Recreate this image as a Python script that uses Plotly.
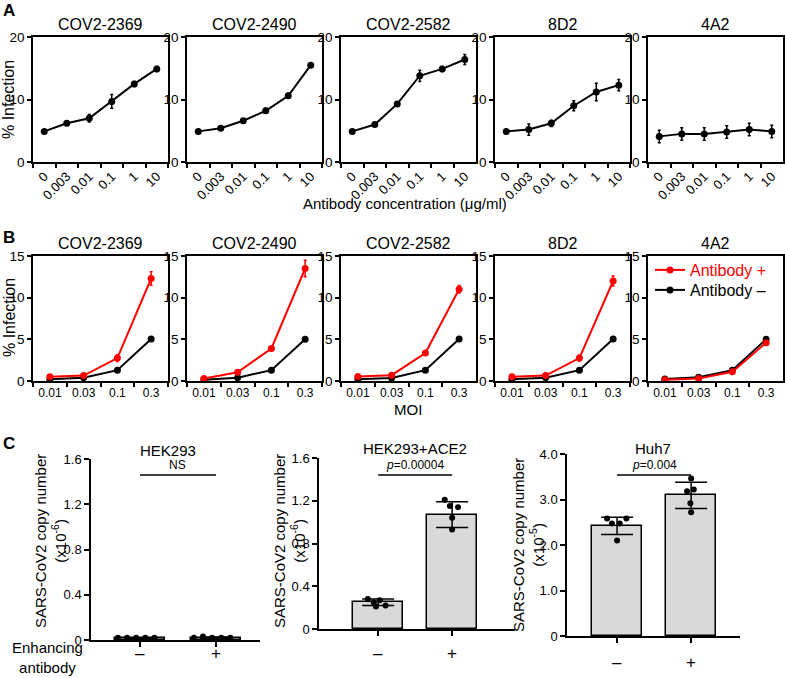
import plotly.graph_objects as go

W, H = 785, 678
FONT = "Liberation Sans, Arial, sans-serif"
RED = "#ff0000"
BLACK = "#000000"

# ---------------- data ----------------
A_conc = ["0", "0.003", "0.01", "0.1", "1", "10"]
A_antibodies = ["COV2-2369", "COV2-2490", "COV2-2582", "8D2", "4A2"]
A_mean_2369 = [4.9, 6.2, 7.0, 9.7, 12.5, 14.9]
A_err_2369 = [0.2, 0.3, 0.6, 1.1, 0.4, 0.4]
A_mean_2490 = [4.9, 5.4, 6.6, 8.2, 10.6, 15.5]
A_err_2490 = [0.3, 0.3, 0.3, 0.4, 0.4, 0.3]
A_mean_2582 = [4.9, 6.0, 9.3, 13.8, 14.9, 16.4]
A_err_2582 = [0.2, 0.2, 0.3, 0.9, 0.4, 0.8]
A_mean_8D2 = [4.9, 5.2, 6.2, 9.0, 11.2, 12.3]
A_err_8D2 = [0.3, 0.9, 0.5, 0.8, 1.4, 0.9]
A_mean_4A2 = [4.1, 4.5, 4.5, 4.8, 5.2, 4.9]
A_err_4A2 = [1.0, 1.0, 1.0, 1.0, 1.0, 1.0]

B_moi = ["0.01", "0.03", "0.1", "0.3"]
B_plus_2369 = [0.5, 0.65, 2.75, 12.3]
B_plus_err_2369 = [0.1, 0.1, 0.4, 0.8]
B_minus_2369 = [0.2, 0.4, 1.3, 5.05]
B_plus_2490 = [0.3, 1.05, 3.9, 13.5]
B_plus_err_2490 = [0.1, 0.15, 0.2, 1.0]
B_minus_2490 = [0.15, 0.4, 1.3, 5.0]
B_plus_2582 = [0.55, 0.7, 3.35, 11.0]
B_plus_err_2582 = [0.1, 0.1, 0.15, 0.45]
B_minus_2582 = [0.2, 0.35, 1.3, 5.05]
B_plus_8D2 = [0.5, 0.65, 2.75, 12.0]
B_plus_err_8D2 = [0.1, 0.1, 0.35, 0.6]
B_minus_8D2 = [0.2, 0.4, 1.3, 5.05]
B_plus_4A2 = [0.15, 0.3, 1.1, 4.6]
B_plus_err_4A2 = [0.05, 0.05, 0.1, 0.2]
B_minus_4A2 = [0.25, 0.45, 1.3, 5.0]
B_minus_err = [0.05, 0.05, 0.1, 0.15]
B_series_names = ["Antibody +", "Antibody –"]

C_groups = ["–", "+"]
C_cells = ["HEK293", "HEK293+ACE2", "Huh7"]
C_pvalues = ["NS", "<i>p</i>=0.00004", "<i>p</i>=0.004"]
C_units = ["(x10<sup>-6</sup>)", "(x10<sup>-6</sup>)", "(x10<sup>-5</sup>)"]
C1_mean = [0.015, 0.018]
C1_err = [0.005, 0.008]
C1_dots_minus = [0.02, 0.02, 0.02, 0.02, 0.02]
C1_dots_plus = [0.02, 0.03, 0.02, 0.02, 0.02]
C2_mean = [0.25, 1.07]
C2_err = [0.03, 0.12]
C2_dots_minus = [0.28, 0.27, 0.25, 0.22, 0.21]
C2_dots_plus = [1.21, 1.15, 1.14, 1.04, 0.93]
C3_mean = [2.42, 3.09]
C3_err = [0.19, 0.29]
C3_dots_minus = [2.58, 2.47, 2.47, 2.58, 2.10]
C3_dots_plus = [3.46, 3.18, 3.22, 2.92, 2.72]
C1_ticks = [0, 0.4, 0.8, 1.2, 1.6]
C1_ticktext = ["0", "0.4", "0.8", "1.2", "1.6"]
C3_ticks = [0, 1, 2, 3, 4]
C3_ticktext = ["0", "1.0", "2.0", "3.0", "4.0"]

# ---------------- layout helpers (style) ----------------
def xd(a, b):
    return [a / W, b / W]

def yd(top, bottom):
    return [1 - bottom / H, 1 - top / H]

def px(x):
    return x / W

def py(y):
    return 1 - y / H

def ax(i):
    return "" if i == 1 else str(i)

PANEL_LEFTS = [33, 187, 341, 495, 648]
PANEL_W = 135

fig = go.Figure()
layout = {}

axis_common = dict(showline=True, linecolor=BLACK, linewidth=1.5, ticks="outside",
                   tickcolor=BLACK, tickwidth=1.5, ticklen=4, showgrid=False,
                   zeroline=False, automargin=False,
                   tickfont=dict(family=FONT, size=13, color=BLACK))

# ---------------- Panel A ----------------
A_means = [A_mean_2369, A_mean_2490, A_mean_2582, A_mean_8D2, A_mean_4A2]
A_errs = [A_err_2369, A_err_2490, A_err_2582, A_err_8D2, A_err_4A2]
for k in range(5):
    i = k + 1
    fig.add_trace(go.Scatter(
        x=A_conc, y=A_means[k], mode="lines+markers",
        line=dict(color=BLACK, width=2), marker=dict(color=BLACK, size=7),
        error_y=dict(type="data", array=A_errs[k], color=BLACK, thickness=1.5, width=1.5),
        xaxis="x" + ax(i), yaxis="y" + ax(i), showlegend=False, hoverinfo="skip"))
    l = PANEL_LEFTS[k]
    layout["xaxis" + ax(i)] = dict(axis_common, domain=xd(l, l + PANEL_W), anchor="y" + ax(i),
                                   type="category", range=[-0.5, 5.5], tickson="boundaries",
                                   tickangle=-45, mirror=True)
    layout["yaxis" + ax(i)] = dict(axis_common, domain=yd(37, 162), anchor="x" + ax(i),
                                   range=[0, 20], tickvals=[0, 10, 20], mirror=True,
                                   tickfont=dict(family=FONT, size=13.5, color=BLACK))

# ---------------- Panel B ----------------
B_plus = [B_plus_2369, B_plus_2490, B_plus_2582, B_plus_8D2, B_plus_4A2]
B_plus_errs = [B_plus_err_2369, B_plus_err_2490, B_plus_err_2582, B_plus_err_8D2, B_plus_err_4A2]
B_minus = [B_minus_2369, B_minus_2490, B_minus_2582, B_minus_8D2, B_minus_4A2]
for k in range(5):
    i = k + 6
    legend_on = (k == 4)
    fig.add_trace(go.Scatter(
        x=B_moi, y=B_minus[k], mode="lines+markers", name=B_series_names[1],
        line=dict(color=BLACK, width=2), marker=dict(color=BLACK, size=7),
        error_y=dict(type="data", array=B_minus_err, color=BLACK, thickness=1.5, width=1.5),
        xaxis="x" + ax(i), yaxis="y" + ax(i), showlegend=legend_on, hoverinfo="skip",
        legend="legend2"))
    fig.add_trace(go.Scatter(
        x=B_moi, y=B_plus[k], mode="lines+markers", name=B_series_names[0],
        line=dict(color=RED, width=2), marker=dict(color=RED, size=7),
        error_y=dict(type="data", array=B_plus_errs[k], color=RED, thickness=1.5, width=1.5),
        xaxis="x" + ax(i), yaxis="y" + ax(i), showlegend=legend_on, hoverinfo="skip",
        legend="legend"))
    l = PANEL_LEFTS[k]
    layout["xaxis" + ax(i)] = dict(axis_common, domain=xd(l, l + PANEL_W), anchor="y" + ax(i),
                                   type="category", range=[-0.5, 3.5], tickson="boundaries",
                                   tickangle=0, mirror=True,
                                   tickfont=dict(family=FONT, size=12, color=BLACK))
    layout["yaxis" + ax(i)] = dict(axis_common, domain=yd(256, 381), anchor="x" + ax(i),
                                   range=[0, 15], tickvals=[0, 5, 10, 15], mirror=True,
                                   tickfont=dict(family=FONT, size=13.5, color=BLACK))

# ---------------- Panel C ----------------
C_means = [C1_mean, C2_mean, C3_mean]
C_errs = [C1_err, C2_err, C3_err]
C_dots = [(C1_dots_minus, C1_dots_plus), (C2_dots_minus, C2_dots_plus), (C3_dots_minus, C3_dots_plus)]
JITTER = [
    ([-0.29, -0.17, -0.05, 0.07, 0.19], [-0.29, -0.17, -0.05, 0.07, 0.19]),
    ([-0.14, 0.02, -0.06, 0.1, -0.03], [-0.1, -0.03, 0.08, 0.0, 0.0]),
    ([-0.135, -0.07, 0.036, 0.126, 0.0], [0.0, -0.054, 0.036, -0.01, 0.0]),
]
C_xdom = [(91, 260), (319, 515), (567, 740)]
C_xrange = [[-0.645, 1.58], [-0.8, 1.85], [-0.676, 1.66]]
C_ydom = [(459, 640), (458, 629), (454, 636)]
C_yrange = [[0, 1.6], [0, 1.6], [0, 4.0]]
C_ticks = [(C1_ticks, C1_ticktext), (C1_ticks, C1_ticktext), (C3_ticks, C3_ticktext)]
C_label_y = [653, 653, 662]
SIG_FRAC = [0.912, 0.90, 0.885]

shapes = []
annotations = []

for k in range(3):
    i = k + 11
    xs = list(range(len(C_groups)))
    fig.add_trace(go.Bar(
        x=xs, y=C_means[k], width=0.67,
        marker=dict(color="#d9d9d9", line=dict(color=BLACK, width=1.5)),
        error_y=dict(type="data", array=C_errs[k], color=BLACK, thickness=1.5, width=16),
        xaxis="x" + ax(i), yaxis="y" + ax(i), showlegend=False, hoverinfo="skip"))
    for g in range(2):
        vals = C_dots[k][g]
        jit = JITTER[k][g]
        fig.add_trace(go.Scatter(
            x=[xs[g] + j for j in jit], y=vals, mode="markers",
            marker=dict(color=BLACK, size=6),
            xaxis="x" + ax(i), yaxis="y" + ax(i), showlegend=False, hoverinfo="skip"))
        annotations.append(dict(text=C_groups[g], x=xs[g], xref="x" + ax(i),
                                y=py(C_label_y[k]), yref="paper", showarrow=False,
                                xanchor="center", yanchor="middle",
                                font=dict(family=FONT, size=17, color=BLACK)))
    a, b = C_xdom[k]
    t, bt = C_ydom[k]
    layout["xaxis" + ax(i)] = dict(axis_common, domain=xd(a, b), anchor="y" + ax(i),
                                   range=C_xrange[k], tickvals=xs, showticklabels=False,
                                   ticklen=5)
    layout["yaxis" + ax(i)] = dict(axis_common, domain=yd(t, bt), anchor="x" + ax(i),
                                   range=C_yrange[k], tickvals=C_ticks[k][0],
                                   ticktext=C_ticks[k][1], ticklen=5)

def ann(text, x, y, size=15, angle=0, bold=False, color=BLACK, xanchor="center"):
    if bold:
        text = "<b>" + text + "</b>"
    annotations.append(dict(text=text, x=px(x), y=py(y), xref="paper", yref="paper",
                            showarrow=False, xanchor=xanchor, yanchor="middle",
                            textangle=angle, font=dict(family=FONT, size=size, color=color)))

# significance lines and labels
for k in range(3):
    i = k + 11
    shapes.append(dict(type="line", xref="x" + ax(i), yref="y" + ax(i) + " domain",
                       x0=0, x1=1, y0=SIG_FRAC[k], y1=SIG_FRAC[k],
                       line=dict(color=BLACK, width=1.5)))
    annotations.append(dict(text=C_pvalues[k], x=0.5, y=SIG_FRAC[k], xref="x" + ax(i),
                            yref="y" + ax(i) + " domain", showarrow=False,
                            yanchor="bottom", yshift=1,
                            font=dict(family=FONT, size=12, color=BLACK)))

# Panel titles
for k in range(5):
    cx = PANEL_LEFTS[k] + PANEL_W / 2
    ann(A_antibodies[k], cx, 24, size=16)
    ann(A_antibodies[k], cx, 243, size=16)

ann("A", 9, 11, size=17, bold=True)
ann("B", 9, 238, size=17, bold=True)
ann("C", 9, 443, size=17, bold=True)
ann("% Infection", 9, 100, size=16, angle=-90)
ann("% Infection", 9, 318, size=16, angle=-90)
ann("Antibody concentration (μg/ml)", 405, 203, size=15)
ann("MOI", 408, 409, size=15)

C_title_pos = [(168, 450), (415, 448), (653, 448)]
C_ytitle_x = [50, 289, 528]
C_ytitle_y = [541, 541, 545]
for k in range(3):
    ann(C_cells[k], C_title_pos[k][0], C_title_pos[k][1], size=15)
    ann("SARS-CoV2 copy number<br>" + C_units[k], C_ytitle_x[k], C_ytitle_y[k],
        size=15, angle=-90)
ann("Enhancing<br>antibody", 47, 657, size=15)

legend_common = dict(xanchor="left", yanchor="top", bgcolor="rgba(0,0,0,0)",
                     itemwidth=30, tracegroupgap=0)
layout.update(dict(
    width=W, height=H, margin=dict(l=0, r=0, t=0, b=0, autoexpand=False),
    paper_bgcolor="white", plot_bgcolor="white",
    font=dict(family=FONT, color=BLACK),
    showlegend=True,
    legend=dict(legend_common, x=px(650), y=py(253),
                font=dict(family=FONT, size=16, color=RED)),
    legend2=dict(legend_common, x=px(650), y=py(273),
                 font=dict(family=FONT, size=16, color=BLACK)),
    shapes=shapes, annotations=annotations, bargap=0,
))
fig.update_layout(**layout)
PAGE_FIX = ("var s=document.createElement('style');"
            "s.textContent='html,body{margin:0;padding:0;overflow:hidden;width:785px;height:678px;}';"
            "document.head.appendChild(s);")
fig.write_html("out.html", config={"displayModeBar": False}, post_script=PAGE_FIX)
